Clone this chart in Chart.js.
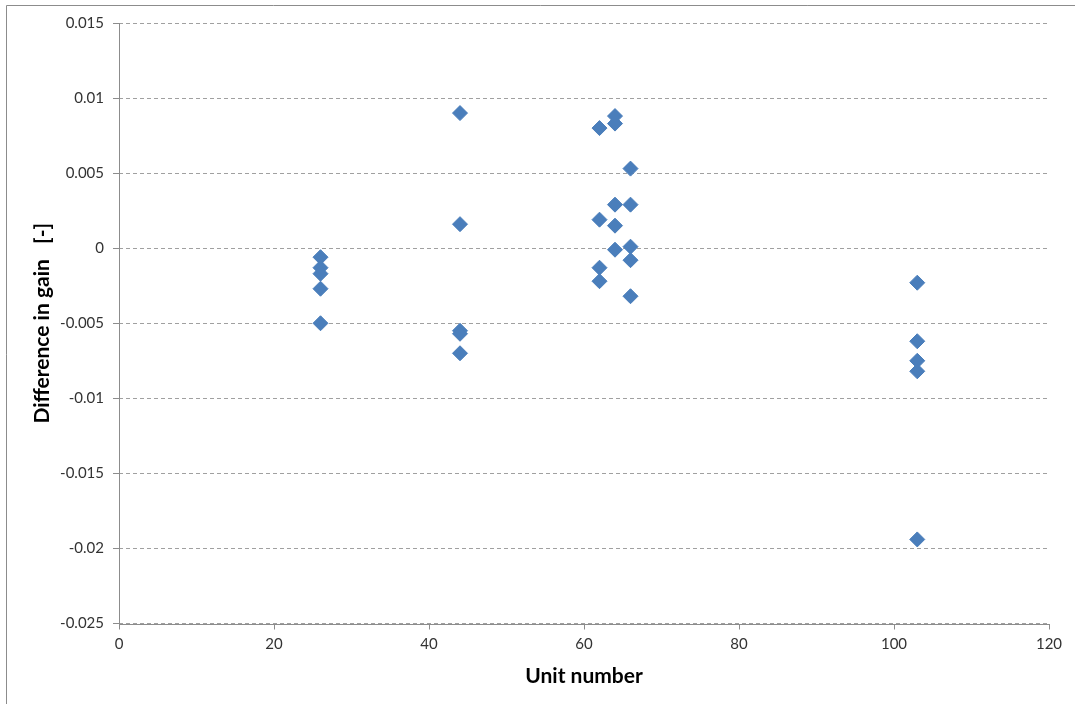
<!DOCTYPE html>
<html>
<head>
<meta charset="utf-8">
<title>Difference in gain by unit</title>
<script src="https://cdn.jsdelivr.net/npm/chart.js@4/dist/chart.umd.min.js"></script>
<style>
  html, body { margin: 0; padding: 0; background: #ffffff; }
  #wrap { width: 1075px; height: 704px; position: relative; }
</style>
</head>
<body>
<div id="wrap"><canvas id="c" width="1075" height="704"></canvas></div>
<script>
// Measured gain differences, grouped by unit number
const unitNumbers = [26, 44, 62, 64, 66, 103];
const gainDiffUnit26 = [-0.0006, -0.0013, -0.0017, -0.0027, -0.0050];
const gainDiffUnit44 = [0.0090, 0.0016, -0.0055, -0.0057, -0.0070];
const gainDiffUnit62 = [0.0080, 0.0019, -0.0013, -0.0022];
const gainDiffUnit64 = [0.0088, 0.0083, 0.0029, 0.0015, -0.0001];
const gainDiffUnit66 = [0.0053, 0.0029, 0.0001, -0.0008, -0.0032];
const gainDiffUnit103 = [-0.0023, -0.0062, -0.0075, -0.0082, -0.0194];

const yTickValues = [0.015, 0.01, 0.005, 0, -0.005, -0.01, -0.015, -0.02, -0.025];
const xTickValues = [0, 20, 40, 60, 80, 100, 120];

const groups = [gainDiffUnit26, gainDiffUnit44, gainDiffUnit62, gainDiffUnit64, gainDiffUnit66, gainDiffUnit103];
const points = [];
groups.forEach((vals, i) => {
  vals.forEach(v => points.push({ x: unitNumbers[i], y: v }));
});

const axisGrey = '#8c8c8c';

// Thin frame along the top and left edge of the figure
const framePlugin = {
  id: 'frame',
  beforeDraw(chart) {
    const ctx = chart.ctx;
    ctx.save();
    ctx.fillStyle = '#ffffff';
    ctx.fillRect(0, 0, chart.width, chart.height);
    ctx.strokeStyle = axisGrey;
    ctx.lineWidth = 1;
    ctx.beginPath();
    ctx.moveTo(6.5, chart.height);
    ctx.lineTo(6.5, 5.5);
    ctx.lineTo(chart.width, 5.5);
    ctx.stroke();
    ctx.restore();
  }
};

// Solid left and bottom axis lines over the dashed grid
const axisLinePlugin = {
  id: 'axisLines',
  afterDatasetsDraw(chart) {
    const a = chart.chartArea;
    const ctx = chart.ctx;
    ctx.save();
    ctx.setLineDash([]);
    ctx.strokeStyle = axisGrey;
    ctx.lineWidth = 1;
    ctx.beginPath();
    const lx = Math.round(a.left) + 0.5;
    const by = Math.round(a.bottom) + 0.5;
    ctx.moveTo(lx, a.top);
    ctx.lineTo(lx, by);
    ctx.lineTo(a.right, by);
    ctx.stroke();
    ctx.restore();
  }
};

const tickFont = { family: 'Lato, "Open Sans", sans-serif', size: 15 };
const titleFont = { family: 'Lato, "Open Sans", sans-serif', size: 21, weight: 'bold' };

new Chart(document.getElementById('c'), {
  type: 'scatter',
  data: {
    datasets: [{
      label: 'Difference in gain',
      data: points,
      pointStyle: 'rectRot',
      pointRadius: 7.5,
      pointHoverRadius: 7.5,
      backgroundColor: '#4a7ebb',
      borderColor: '#4a7ebb',
      borderWidth: 1
    }]
  },
  options: {
    responsive: false,
    animation: false,
    events: [],
    layout: { padding: { top: 23, right: 26, left: 0, bottom: 0 } },
    plugins: {
      legend: { display: false },
      tooltip: { enabled: false }
    },
    scales: {
      x: {
        type: 'linear',
        min: 0,
        max: 120,
        afterBuildTicks(scale) { scale.ticks = xTickValues.map(v => ({ value: v })); },
        afterFit(scale) { scale.height = 80.5; },
        border: { display: false },
        grid: {
          drawOnChartArea: false,
          drawTicks: true,
          tickLength: 6,
          tickColor: axisGrey,
          tickBorderDash: []
        },
        ticks: { font: tickFont, color: '#333333', padding: 6, maxRotation: 0 },
        title: {
          display: true,
          text: 'Unit number',
          font: titleFont,
          color: '#000000',
          padding: { top: 0, bottom: 15 }
        }
      },
      y: {
        type: 'linear',
        min: -0.025,
        max: 0.015,
        afterBuildTicks(scale) { scale.ticks = yTickValues.map(v => ({ value: v })); },
        afterFit(scale) { scale.width = 119; },
        border: { display: false, dash: [4, 3] },
        grid: {
          drawOnChartArea: true,
          color: '#a0a0a0',
          lineWidth: 1,
          drawTicks: true,
          tickLength: 6,
          tickColor: axisGrey,
          tickBorderDash: []
        },
        ticks: {
          font: tickFont,
          color: '#333333',
          padding: 9,
          callback: v => String(Math.round(v * 1000) / 1000)
        },
        title: {
          display: true,
          text: 'Difference in gain   [-]',
          font: titleFont,
          color: '#000000',
          padding: { top: 30, bottom: 0 }
        }
      }
    }
  },
  plugins: [framePlugin, axisLinePlugin]
});
</script>
</body>
</html>
